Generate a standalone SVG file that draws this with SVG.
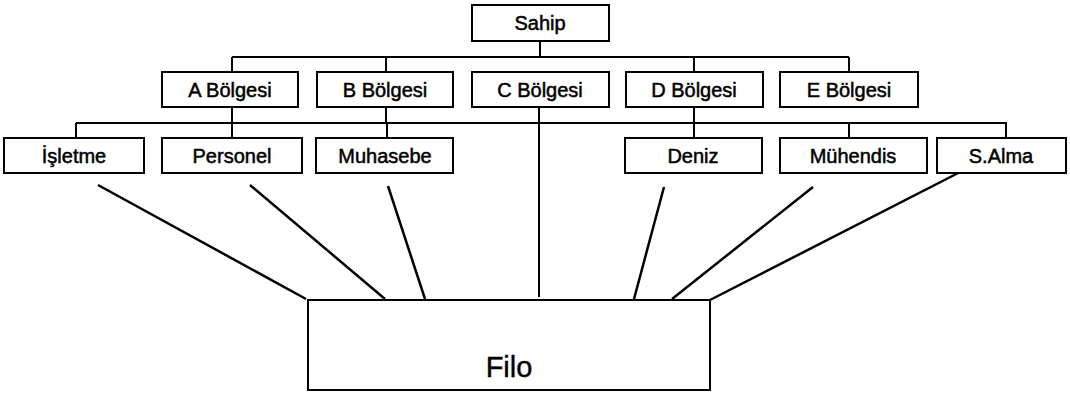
<svg xmlns="http://www.w3.org/2000/svg" width="1070" height="394" viewBox="0 0 1070 394">
<style>
.box{fill:#fff;stroke:#000;stroke-width:2}
.t{font-family:"Liberation Sans",Arial,sans-serif;font-size:20px;text-anchor:middle;fill:#000;stroke:#000;stroke-width:0.5}
.big{font-family:"Liberation Sans",Arial,sans-serif;font-size:29px;text-anchor:middle;fill:#000;stroke:#000;stroke-width:0.4}
.c{stroke:#000;stroke-width:2;fill:none}
.d{stroke:#000;stroke-width:2.5;fill:none}
</style>
<rect width="1070" height="394" fill="#fff"/>
<g id="connectors">
<path class="c" d="M540 41V57M232 57H849M232 57V72M386 57V72M694 57V72M849 57V72"/>
<path class="c" d="M232 107V123M386 107V123M694 107V123M76 123H1007M76 123V138M232 123V138M387 123V138M694 123V138M849 123V138M1006 123V138"/>
<path class="c" d="M539 107V297"/>
<path class="d" d="M98 185L306 299M250 185L385 299M388 186L425 299M664 187L634 299M813 187L672 299M966 169L710 300"/>
</g>
<g id="sahip"><rect class="box" x="472" y="5" width="137" height="36"/><text class="t" x="540" y="30">Sahip</text></g>
<g id="a-bolgesi"><rect class="box" x="162" y="72" width="136" height="35"/><text class="t" x="230" y="97">A Bölgesi</text></g>
<g id="b-bolgesi"><rect class="box" x="317" y="72" width="136" height="35"/><text class="t" x="385" y="97">B Bölgesi</text></g>
<g id="c-bolgesi"><rect class="box" x="472" y="72" width="137" height="35"/><text class="t" x="540" y="97">C Bölgesi</text></g>
<g id="d-bolgesi"><rect class="box" x="626" y="72" width="137" height="35"/><text class="t" x="694" y="97">D Bölgesi</text></g>
<g id="e-bolgesi"><rect class="box" x="780" y="72" width="138" height="35"/><text class="t" x="849" y="97">E Bölgesi</text></g>
<g id="isletme"><rect class="box" x="4" y="138" width="140" height="35"/><text class="t" x="74" y="163">İşletme</text></g>
<g id="personel"><rect class="box" x="162" y="138" width="140" height="35"/><text class="t" x="232" y="163">Personel</text></g>
<g id="muhasebe"><rect class="box" x="316" y="138" width="137" height="35"/><text class="t" x="385" y="163">Muhasebe</text></g>
<g id="deniz"><rect class="box" x="625" y="138" width="137" height="35"/><text class="t" x="693" y="163">Deniz</text></g>
<g id="muhendis"><rect class="box" x="780" y="138" width="147" height="35"/><text class="t" x="853" y="163">Mühendis</text></g>
<g id="s-alma"><rect class="box" x="937" y="138" width="129" height="35"/><text class="t" x="1001" y="163">S.Alma</text></g>
<g id="filo"><rect class="box" x="308" y="300" width="402" height="90"/><text class="big" x="509" y="377">Filo</text></g>
</svg>
